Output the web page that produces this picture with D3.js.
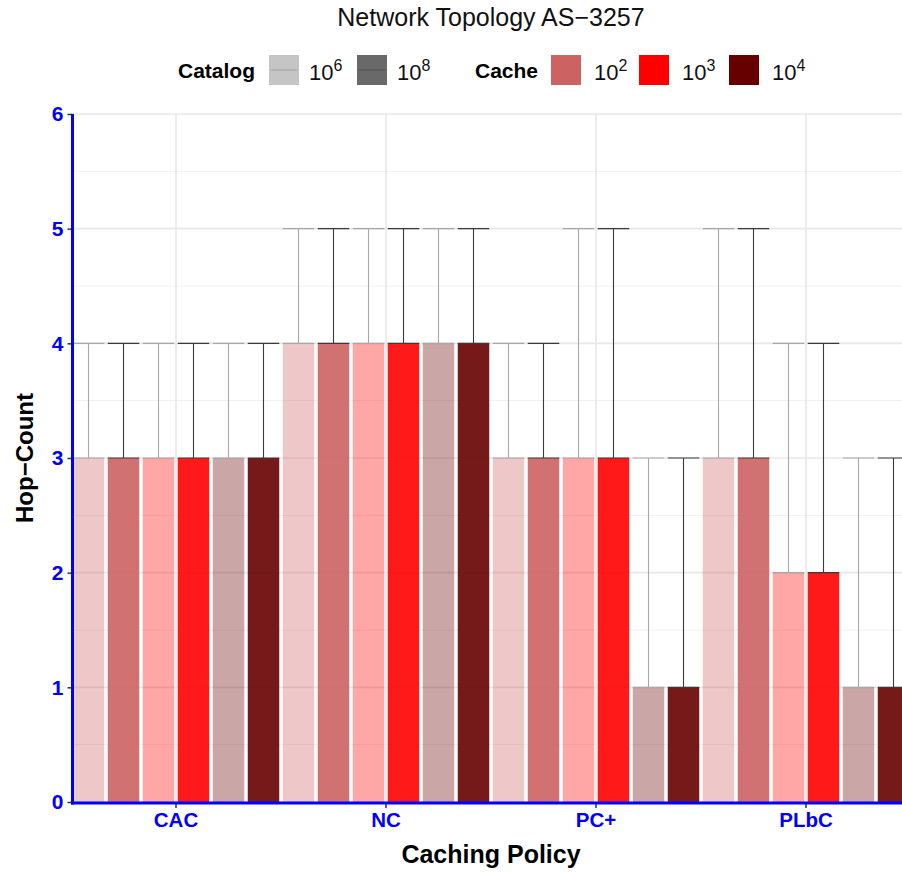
<!DOCTYPE html>
<html>
<head>
<meta charset="utf-8">
<script src="https://cdn.jsdelivr.net/npm/d3@7"></script>
<style>
  body { margin: 0; background: #fff; }
  svg { display: block; font-family: "Liberation Sans", Arial, sans-serif; }
</style>
</head>
<body>
<div id="chart"></div>
<script>
// Hop-count per caching policy, split by cache size and catalog size

const policies = ["CAC", "NC", "PC+", "PLbC"];
const cacheSizes = ["2", "3", "4"];      // exponents of 10
const catalogSizes = ["6", "8"];         // exponents of 10
const yTicks = [0, 1, 2, 3, 4, 5, 6];

// values in order: (10^2,10^6) (10^2,10^8) (10^3,10^6) (10^3,10^8) (10^4,10^6) (10^4,10^8)
const hopValue = {
    "CAC":  [3, 3, 3, 3, 3, 3],
    "NC":   [4, 4, 4, 4, 4, 4],
    "PC+":  [3, 3, 3, 3, 1, 1],
    "PLbC": [3, 3, 2, 2, 1, 1]
};
const hopMax = {
    "CAC":  [4, 4, 4, 4, 4, 4],
    "NC":   [5, 5, 5, 5, 5, 5],
    "PC+":  [4, 4, 5, 5, 3, 3],
    "PLbC": [5, 5, 4, 4, 3, 3]
};

const cacheColor = { "2": "#CD6262", "3": "#FF0000", "4": "#660000" };
const catalogAlpha = { "6": 0.35, "8": 0.9 };
const catalogLine = { "6": "#a8a8a8", "8": "#3a3a3a" };

const width = 902, height = 873;
const blue = "#0000FF";

const svg = d3.select("#chart").append("svg")
    .attr("width", width)
    .attr("height", height);

// flatten
const keys = [];
cacheSizes.forEach(c => catalogSizes.forEach(k => keys.push(c + "_" + k)));
const rows = [];
policies.forEach(p => {
    keys.forEach((key, i) => {
        const [c, k] = key.split("_");
        rows.push({ policy: p, key, cache: c, catalog: k, value: hopValue[p][i], max: hopMax[p][i] });
    });
});

// Scales
const x = d3.scaleBand().domain(policies).range([71, 911]).paddingInner(0).paddingOuter(0);
const xSub = d3.scaleBand().domain(keys).range([0, x.bandwidth()]).paddingInner(0.1).paddingOuter(0.05);
const y = d3.scaleLinear().domain([0, 6]).range([802, 114]);

// Grid
const grid = svg.append("g");
d3.range(0.5, 6, 1).forEach(v => {
    grid.append("line")
        .attr("x1", 71).attr("x2", width)
        .attr("y1", y(v)).attr("y2", y(v))
        .attr("stroke", "#f0f0f0").attr("stroke-width", 1);
});
yTicks.forEach(v => {
    grid.append("line")
        .attr("x1", 71).attr("x2", width)
        .attr("y1", y(v)).attr("y2", y(v))
        .attr("stroke", "#e8e8e8").attr("stroke-width", 1.6);
});
policies.forEach(p => {
    grid.append("line")
        .attr("x1", x(p) + x.bandwidth() / 2).attr("x2", x(p) + x.bandwidth() / 2)
        .attr("y1", y(0)).attr("y2", y(6))
        .attr("stroke", "#e8e8e8").attr("stroke-width", 1.6);
});

// Bars
svg.append("g").selectAll("rect")
    .data(rows)
    .enter()
    .append("rect")
    .attr("x", d => x(d.policy) + xSub(d.key))
    .attr("width", xSub.bandwidth())
    .attr("y", d => y(d.value))
    .attr("height", d => y(0) - y(d.value))
    .attr("fill", d => cacheColor[d.cache])
    .attr("fill-opacity", d => catalogAlpha[d.catalog]);

// Error bars (value -> max)
const eb = svg.append("g").selectAll("g")
    .data(rows)
    .enter()
    .append("g")
    .attr("stroke", d => catalogLine[d.catalog])
    .attr("stroke-width", 1.1);

eb.append("line")
    .attr("x1", d => x(d.policy) + xSub(d.key) + xSub.bandwidth() / 2)
    .attr("x2", d => x(d.policy) + xSub(d.key) + xSub.bandwidth() / 2)
    .attr("y1", d => y(d.value))
    .attr("y2", d => y(d.max));
["value", "max"].forEach(f => {
    eb.append("line")
        .attr("x1", d => x(d.policy) + xSub(d.key))
        .attr("x2", d => x(d.policy) + xSub(d.key) + xSub.bandwidth())
        .attr("y1", d => y(d[f]))
        .attr("y2", d => y(d[f]));
});

// Axes
const yAxis = svg.append("g")
    .attr("transform", "translate(72.5,0)")
    .call(d3.axisLeft(y).tickValues(yTicks).tickSize(5).tickPadding(4).tickFormat(d3.format("d")));
yAxis.select(".domain").remove();
yAxis.selectAll(".tick line").attr("stroke", "#333").attr("stroke-width", 1.5);
yAxis.selectAll(".tick text")
    .attr("fill", blue)
    .attr("font-size", "21px")
    .attr("font-weight", "bold")
    .attr("font-family", "Liberation Sans, Arial, sans-serif");

const xAxis = svg.append("g")
    .attr("transform", "translate(0,803)")
    .call(d3.axisBottom(x).tickSize(5).tickPadding(4));
xAxis.select(".domain").remove();
xAxis.selectAll(".tick line").attr("stroke", "#333").attr("stroke-width", 1.5);
xAxis.selectAll(".tick text")
    .attr("fill", blue)
    .attr("font-size", "20.5px")
    .attr("font-weight", "bold")
    .attr("font-family", "Liberation Sans, Arial, sans-serif");

// axis lines
svg.append("line").attr("x1", 72.5).attr("x2", 72.5).attr("y1", 114).attr("y2", 804.5)
    .attr("stroke", blue).attr("stroke-width", 3);
svg.append("line").attr("x1", 71).attr("x2", width).attr("y1", 803).attr("y2", 803)
    .attr("stroke", blue).attr("stroke-width", 3);

// Titles
svg.append("text")
    .attr("x", 491).attr("y", 26)
    .attr("text-anchor", "middle")
    .attr("font-size", "25px")
    .attr("fill", "#111")
    .text("Network Topology AS\u22123257");

svg.append("text")
    .attr("x", 491).attr("y", 863)
    .attr("text-anchor", "middle")
    .attr("font-size", "25px")
    .attr("font-weight", "bold")
    .attr("fill", "#000")
    .text("Caching Policy");

svg.append("text")
    .attr("transform", "translate(33,458) rotate(-90)")
    .attr("text-anchor", "middle")
    .attr("font-size", "24px")
    .attr("font-weight", "bold")
    .attr("fill", "#000")
    .text("Hop\u2212Count");

// Legend
const legend = svg.append("g");
const keyY = 55, keyS = 30;

function powerLabel(xPos, exp) {
    const t = legend.append("text")
        .attr("x", xPos).attr("y", 80)
        .attr("font-size", "22px")
        .attr("fill", "#111");
    t.append("tspan").text("10");
    t.append("tspan").attr("dy", -9).attr("font-size", "16px").text(exp);
}

legend.append("text")
    .attr("x", 178).attr("y", 78)
    .attr("font-size", "21px").attr("font-weight", "bold")
    .text("Catalog");

const catKeyX = [269, 357];
catalogSizes.forEach((k, i) => {
    legend.append("rect")
        .attr("x", catKeyX[i]).attr("y", keyY)
        .attr("width", keyS).attr("height", keyS)
        .attr("fill", "#595959").attr("fill-opacity", catalogAlpha[k]);
    legend.append("line")
        .attr("x1", catKeyX[i] + 2).attr("x2", catKeyX[i] + keyS - 2)
        .attr("y1", keyY + keyS / 2).attr("y2", keyY + keyS / 2)
        .attr("stroke", k === "6" ? "#a8a8a8" : "#555").attr("stroke-width", 1.3);
    powerLabel(catKeyX[i] + 40, k);
});

legend.append("text")
    .attr("x", 475).attr("y", 78)
    .attr("font-size", "21px").attr("font-weight", "bold")
    .text("Cache");

const cacheKeyX = [551, 639, 729];
cacheSizes.forEach((c, i) => {
    legend.append("rect")
        .attr("x", cacheKeyX[i]).attr("y", keyY)
        .attr("width", keyS).attr("height", keyS)
        .attr("fill", cacheColor[c]);
    powerLabel(cacheKeyX[i] + 43, c);
});
</script>
</body>
</html>
